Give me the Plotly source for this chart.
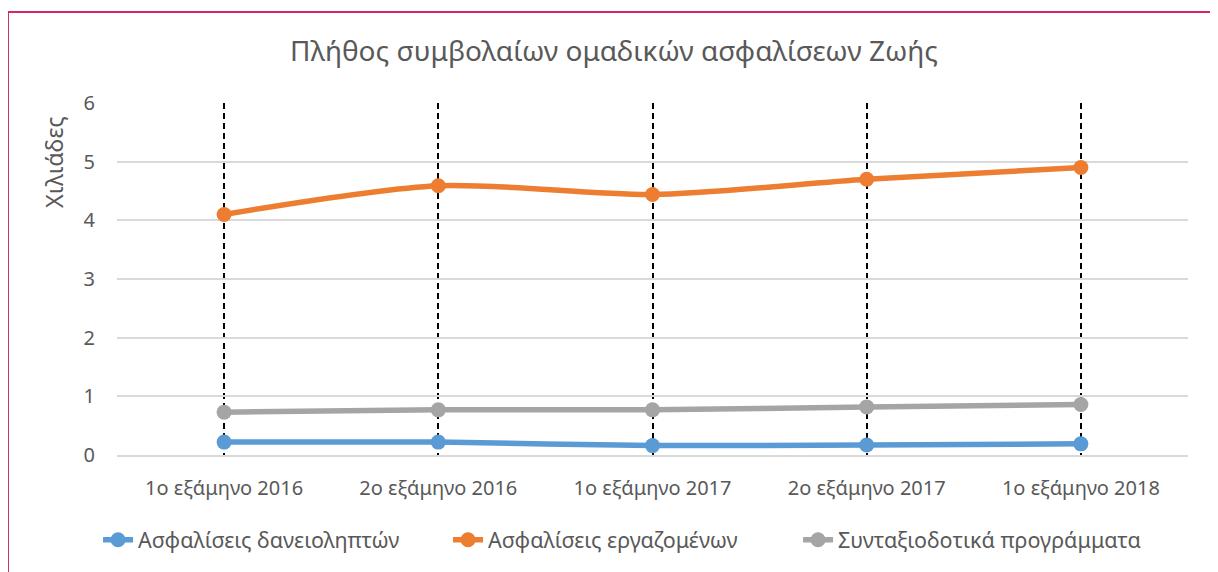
import plotly.graph_objects as go

categories = ["1ο εξάμηνο 2016", "2ο εξάμηνο 2016", "1ο εξάμηνο 2017", "2ο εξάμηνο 2017", "1ο εξάμηνο 2018"]
borrowers = [0.22, 0.22, 0.16, 0.17, 0.19]
employees = [4.10, 4.59, 4.44, 4.70, 4.90]
pension = [0.73, 0.77, 0.77, 0.82, 0.86]

names = ["Ασφαλίσεις δανειοληπτών", "Ασφαλίσεις εργαζομένων", "Συνταξιοδοτικά προγράμματα"]
colors = ["#5b9bd5", "#ed7d31", "#a5a5a5"]
series = [borrowers, employees, pension]

FONT = "Noto Sans"
fig = go.Figure()
for name, vals, col in zip(names, series, colors):
    fig.add_trace(go.Scatter(
        x=categories, y=vals, name=name, mode="lines+markers",
        line=dict(color=col, width=5.5, shape="spline", smoothing=0.8),
        marker=dict(color=col, size=15),
    ))

fig.update_layout(
    width=1210, height=564,
    paper_bgcolor="white", plot_bgcolor="white",
    margin=dict(l=109, r=30, t=95, b=117),
    font=dict(family=FONT, color="#595959", size=20),
    title=dict(text="Πλήθος συμβολαίων ομαδικών ασφαλίσεων Ζωής", x=0.5008, xanchor="center",
               y=0.924, yanchor="middle", font=dict(size=28, color="#595959", family=FONT)),
    xaxis=dict(type="category", range=[-0.5, 4.5], showgrid=True, gridcolor="black",
               griddash="6px,4px", gridwidth=2,
               showline=True, linecolor="#d9d9d9", linewidth=2, ticks="", tickfont=dict(size=20),
               ticklabelstandoff=14),
    yaxis=dict(range=[0, 6], dtick=1, showgrid=True, gridcolor="#d9d9d9", gridwidth=2,
               zeroline=False, ticks="", tickfont=dict(size=20), ticklabelstandoff=21),
    legend=dict(orientation="h", x=0.4725, xanchor="center", y=-0.241, yanchor="middle",
                font=dict(size=21.5), itemwidth=30, traceorder="normal",
                entrywidth=305, entrywidthmode="pixels"),
    showlegend=True,
    annotations=[dict(text="Χιλιάδες", xref="paper", yref="paper", x=-0.059, y=0.832,
                      xanchor="center", yanchor="middle", textangle=-90, showarrow=False,
                      font=dict(size=23.5, color="#595959", family=FONT))],
    shapes=[dict(type="rect", xref="paper", yref="paper", x0=-0.1018, x1=1.026, y0=-0.4, y1=1.2585,
                 line=dict(color="#d6246e", width=2), fillcolor="rgba(0,0,0,0)", layer="below")],
)
fig.write_html("out.html")
